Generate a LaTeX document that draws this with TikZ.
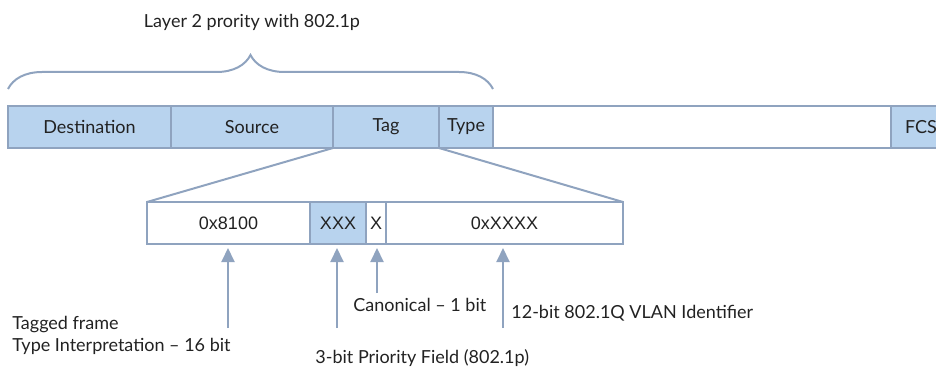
\documentclass[tikz,border=0pt]{standalone}
\usepackage{fontspec}
\setmainfont{Lato}
\newfontfamily\arialfont{Liberation Sans}
\usetikzlibrary{positioning, arrows.meta, decorations.pathreplacing}

\definecolor{framefill}{HTML}{B8D3EE}
\definecolor{frameline}{HTML}{8FA3BF}
\definecolor{textgray}{HTML}{222222}

\begin{document}
\begin{tikzpicture}[x=0.5pt, y=-0.5pt, text=textgray,
    font=\fontsize{9}{11}\selectfont,
    field/.style={draw=frameline, line width=1pt, minimum height=21pt, inner sep=0pt, outer sep=0pt},
    shaded/.style={field, fill=framefill},
    subfield/.style={field, font=\arialfont\fontsize{9}{11}\selectfont},
    pointer/.style={draw=frameline, line width=1pt, -{Triangle[width=6.5pt, length=7pt]}, shorten >=2pt},
    note/.style={anchor=west, inner sep=0pt, align=left}]
        \useasboundingbox (0,0) rectangle (936,369);

        % the ethernet frame
        \node[shaded, minimum width=81.5pt] (dst) at (89.5,127) {Destination};
        \node[shaded, minimum width=81pt]   (src) [right=0pt of dst] {Source};
        \node[shaded, minimum width=53pt]   (tag) [right=0pt of src] {Tag};
        \node[shaded, minimum width=27pt]   (typ) [right=0pt of tag] {Type};
        \node[field,  minimum width=199pt]  (pay) [right=0pt of typ] {};
        \node[shaded, minimum width=30pt]   (fcs) [right=0pt of pay] {FCS};

        % brace and title
        \draw[frameline, line width=1pt, decorate, decoration={brace, amplitude=17pt}]
          ([yshift=8.5pt]dst.north west) -- ([yshift=8.5pt]typ.north east);
        \node (title) at (252,22) {Layer 2 prority with 802.1p};

        % the tag expanded
        \node[subfield, minimum width=81.5pt] (tpid) at (228.5,223) {0x8100};
        \node[subfield, minimum width=28pt, fill=framefill] (pcp) [right=0pt of tpid] {XXX};
        \node[subfield, minimum width=10pt]   (cfi) [right=0pt of pcp] {X};
        \node[subfield, minimum width=118.5pt] (vid) [right=0pt of cfi] {0xXXXX};

        \draw[frameline, line width=1pt] (tag.south west) -- (tpid.north west);
        \draw[frameline, line width=1pt] (tag.south east) -- (vid.north east);

        % labels
        \node[note] (tpidtxt) at (12,335) {Tagged frame\\Type Interpretation -- 16 bit};
        \node[note] (pcptxt)  at (315,358) {3-bit Priority Field (802.1p)};
        \node[note] (cfitxt)  at (353,305) {Canonical -- 1 bit};
        \node[note] (vidtxt)  at (511,313) {12-bit 802.1Q VLAN Identifier};

        \coordinate (tpidend) at (228,328);
        \coordinate (pcpend)  at (337,328);
        \coordinate (cfiend)  at (377,293);
        \coordinate (vidend)  at (503,328);

        \draw[pointer] (tpidend) -- (tpidend |- tpid.south);
        \draw[pointer] (pcpend)  -- (pcpend |- pcp.south);
        \draw[pointer] (cfiend)  -- (cfiend |- cfi.south);
        \draw[pointer] (vidend)  -- (vidend |- vid.south);
\end{tikzpicture}
\end{document}
